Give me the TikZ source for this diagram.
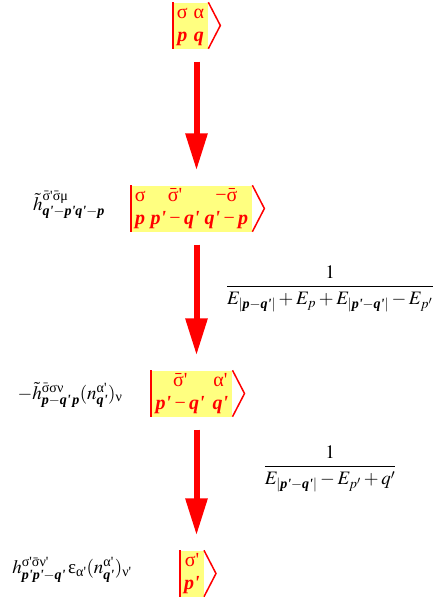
\documentclass[tikz,border=0pt]{standalone}
\usepackage{amsmath}
\usepackage{mathptmx}
\usepackage{fontspec}
\setmainfont{Liberation Serif}[Ligatures=TeXOff]
\usepackage{tikz}
\definecolor{stYellow}{HTML}{FFFF80}
\definecolor{stRed}{HTML}{FF0000}
\usetikzlibrary{positioning,arrows.meta}
\newcommand{\vb}[1]{\textbf{\textit{#1}}}
\newcommand{\gk}[1]{\text{\upshape\mdseries #1}}

\begin{document}
\begin{tikzpicture}[x=1pt,y=-1pt, stbox/.style={fill=stYellow,text=stRed,inner xsep=4pt,inner ysep=0pt,minimum height=46pt,font=\fontsize{20}{23}\selectfont}, flow/.style={draw=stRed,line width=6pt,-{Triangle[length=37pt,width=21pt]},shorten <=13pt,shorten >=15pt}, lbl/.style={font=\fontsize{19}{23}\selectfont}]
\useasboundingbox (0,0) rectangle (434,600);
\coordinate (ax) at (196.5,0);
% states
\node[stbox] (b1) at (190.5,25.5) {\begin{tabular}{@{}c@{\hspace{6pt}}c@{}}σ & α\\ \vb{p} & \vb{q}\end{tabular}};
\node[stbox] (b2) at (191.5,208.5) {\begin{tabular}{@{}c@{\hspace{5pt}}c@{\hspace{5pt}}c@{}}σ & $\bar{\gk{σ}}$' & −$\bar{\gk{σ}}$\\ \vb{p} & \vb{p'}\,−\,\vb{q'} & \vb{q'}\,−\,\vb{p}\end{tabular}};
\node[stbox] (b3) at (192,393.5) {\begin{tabular}{@{}c@{\hspace{8pt}}c@{}}$\bar{\gk{σ}}$' & α'\\ \vb{p'}\,−\,\vb{q'} & \vb{q'}\end{tabular}};
\node[stbox] (b4) at (192,573.5) {\begin{tabular}{@{}c@{}}σ'\\ \vb{p'}\end{tabular}};
\foreach \b in {b1,b2,b3,b4}{
  \draw[stRed,line width=2pt] (\b.north west) -- (\b.south west);
  \draw[stRed,line width=1.5pt] (\b.north east) -- ([xshift=12pt]\b.east) -- (\b.south east);
}
% vertex factors
\node[lbl] (h1) at (69,205) {$\tilde{h}^{\bar{\gk{σ}}\gk{'}\bar{\gk{σ}}\gk{μ}}_{\vb{q'}-\vb{p'}\vb{q'}-\vb{p}}$};
\node[lbl] (h2) at (70,395) {$-\tilde{h}^{\bar{\gk{σ}}\gk{σν}}_{\vb{p}-\vb{q'}\,\vb{p}}(n^{\gk{α'}}_{\vb{q'}})_{\gk{ν}}$};
\node[lbl] (h3) at (72,570) {$h^{\gk{σ'}\bar{\gk{σ}}\gk{ν'}}_{\vb{p'}\vb{p'}-\vb{q'}}\,\gk{ε}_{\gk{α'}}(n^{\gk{α'}}_{\vb{q'}})_{\gk{ν'}}$};
% energy denominators
\node[lbl] (e1) at (330,289) {$\dfrac{1}{E_{|\vb{p}-\vb{q'}|}+E_{p}+E_{|\vb{p'}-\vb{q'}|}-E_{p'}}$};
\node[lbl] (e2) at (330,469) {$\dfrac{1}{E_{|\vb{p'}-\vb{q'}|}-E_{p'}+q'}$};
\draw[flow] (b1.south -| ax) -- (b2.north -| ax);
\draw[flow] (b2.south -| ax) -- (b3.north -| ax);
\draw[flow] (b3.south -| ax) -- (b4.north -| ax);
\end{tikzpicture}
\end{document}
